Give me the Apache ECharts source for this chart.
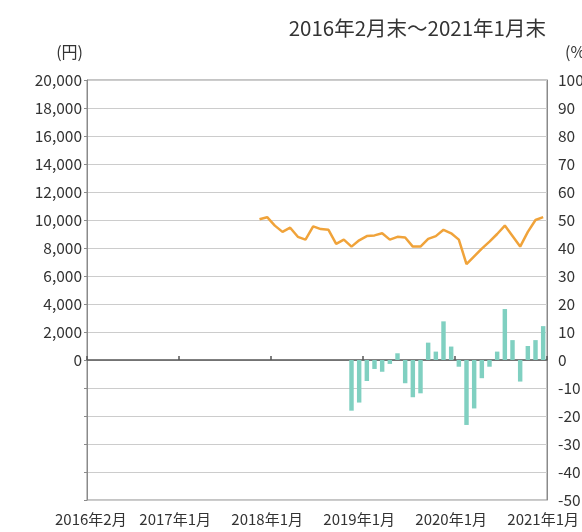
<!DOCTYPE html>
<html>
<head>
<meta charset="utf-8">
<script src="https://cdn.jsdelivr.net/npm/echarts@6/dist/echarts.min.js"></script>
<style>
html,body{margin:0;padding:0;background:#fff;}
#chart{width:582px;height:532px;}
</style>
</head>
<body>
<div id="chart"></div>
<script>
// Months 2016-02 .. 2021-01
const months = [
  '2016-02','2016-03','2016-04','2016-05','2016-06','2016-07','2016-08','2016-09','2016-10','2016-11','2016-12',
  '2017-01','2017-02','2017-03','2017-04','2017-05','2017-06','2017-07','2017-08','2017-09','2017-10','2017-11','2017-12',
  '2018-01','2018-02','2018-03','2018-04','2018-05','2018-06','2018-07','2018-08','2018-09','2018-10','2018-11','2018-12',
  '2019-01','2019-02','2019-03','2019-04','2019-05','2019-06','2019-07','2019-08','2019-09','2019-10','2019-11','2019-12',
  '2020-01','2020-02','2020-03','2020-04','2020-05','2020-06','2020-07','2020-08','2020-09','2020-10','2020-11','2020-12',
  '2021-01'
];
// Price (円), from 2017-12
const priceStart = '2017-12';
const priceValues = [
  10050,10200,9600,9150,9450,8800,8600,9550,9350,9300,
  8300,8600,8100,8550,8850,8900,9050,8600,8800,8750,
  8100,8100,8650,8850,9300,9050,8600,6850,7400,7950,
  8450,9000,9600,8850,8100,9150,10000,10200
];
// Return (%), from 2018-12
const returnStart = '2018-12';
const returnValues = [
  -18.1,-15.2,-7.5,-3.2,-4.2,-1.4,2.4,-8.3,-13.3,-11.9,
  6.2,3.0,13.8,4.8,-2.4,-23.2,-17.3,-6.5,-2.4,3.0,
  18.2,7.1,-7.7,5.0,7.1,12.1
];
const titleText = '2016年2月末～2021年1月末';
const leftAxisName = '(円)';
const rightAxisName = '(%)';

function pad(start, vals) {
  const i0 = months.indexOf(start);
  const out = new Array(months.length).fill(null);
  vals.forEach((v, i) => { out[i0 + i] = v; });
  return out;
}
const priceData = pad(priceStart, priceValues);
const returnData = pad(returnStart, returnValues);

function monthLabel(v) {
  const [y, m] = v.split('-');
  return y + '年' + parseInt(m, 10) + '月';
}

const FONT = '"Noto Sans CJK JP", "Noto Sans", sans-serif';
const TXT = '#333';

const chart = echarts.init(document.getElementById('chart'), null, {renderer: 'canvas'});
chart.setOption({
  animation: false,
  textStyle: {fontFamily: FONT, color: TXT},
  title: {
    text: titleText, right: 31, top: 13,
    textStyle: {fontFamily: FONT, fontSize: 20.5, fontWeight: 'normal', color: TXT}
  },
  grid: {
    left: 87, top: 80, width: 460, height: 420,
    show: true, borderColor: '#8a8a8a', borderWidth: 1,
    containLabel: false, outerBoundsMode: 'none'
  },
  xAxis: [
    {
      type: 'category', data: months, boundaryGap: true, position: 'bottom',
      axisLine: {show: false}, axisTick: {show: false}, splitLine: {show: false},
      axisLabel: {
        interval: (i, v) => i === 0 || v.endsWith('-01'),
        formatter: monthLabel, margin: 12,
        fontSize: 15, color: TXT, fontFamily: FONT, hideOverlap: false
      }
    },
    {
      type: 'category', data: months, boundaryGap: true, position: 'bottom',
      axisLine: {show: true, onZero: true, onZeroAxisIndex: 0, lineStyle: {color: '#555', width: 1.5}},
      axisTick: {show: true, inside: true, interval: 11, length: 4, lineStyle: {color: '#555', width: 1.5}},
      axisLabel: {show: false}, splitLine: {show: false}
    }
  ],
  yAxis: [
    {
      type: 'value', min: -10000, max: 20000, interval: 2000, position: 'left',
      name: leftAxisName, nameLocation: 'end', nameGap: 20,
      nameTextStyle: {fontFamily: FONT, fontSize: 16, color: TXT, align: 'right', padding: [0, 4, 0, 0]},
      axisLine: {show: true, lineStyle: {color: '#8a8a8a'}},
      axisTick: {show: true, length: 3, lineStyle: {color: '#8a8a8a'}},
      splitLine: {show: true, lineStyle: {color: '#cccccc', width: 1}},
      axisLabel: {
        fontSize: 15.5, color: TXT, fontFamily: FONT, margin: 5,
        formatter: v => v < 0 ? '' : v.toLocaleString('en-US')
      }
    },
    {
      type: 'value', min: -50, max: 100, interval: 10, position: 'right',
      name: rightAxisName, nameLocation: 'end', nameGap: 20,
      nameTextStyle: {fontFamily: FONT, fontSize: 16, color: TXT, align: 'left', padding: [0, 0, 0, 18]},
      axisLine: {show: true, lineStyle: {color: '#8a8a8a'}},
      axisTick: {show: false},
      splitLine: {show: false},
      axisLabel: {fontSize: 15.5, color: TXT, fontFamily: FONT, margin: 11}
    }
  ],
  series: [
    {
      type: 'bar', name: '騰落率', xAxisIndex: 0, yAxisIndex: 1, data: returnData,
      barWidth: '58%', itemStyle: {color: '#80d0c1'}, z: 2
    },
    {
      type: 'line', name: '基準価額', xAxisIndex: 0, yAxisIndex: 0, data: priceData,
      showSymbol: false, symbol: 'none', connectNulls: false,
      lineStyle: {color: '#f0a33a', width: 2.5}, itemStyle: {color: '#f0a33a'}, z: 3
    }
  ]
});
</script>
</body>
</html>
